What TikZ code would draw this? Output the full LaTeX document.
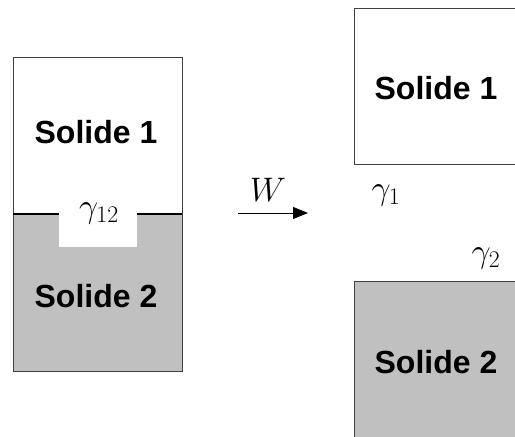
\RequirePackage{fix-cm}
\documentclass[tikz,border=0pt]{standalone}
\usepackage{fontspec}
\newfontfamily\solfont{Liberation Sans}
\usetikzlibrary{arrows.meta, positioning}
\definecolor{solgray}{RGB}{192,192,192}

\begin{document}
\begin{tikzpicture}[x=1pt, y=-1pt,
    solbox/.style={draw=black!75, line width=0.8pt},
    sollabel/.style={font=\solfont\bfseries\fontsize{32}{36}\selectfont},
    gammalabel/.style={font=\fontsize{34}{40}\selectfont, inner sep=0pt}]
    \useasboundingbox (0,0) rectangle (515,437);

    % joined solids
    \fill[solgray] (13,214) rectangle (182,371);
    \fill[white] (59,214) rectangle (137,247);
    \draw[solbox] (13,57) rectangle (182,371);
    \draw[line width=2.5pt] (13,214) -- (59,214) (137,214) -- (182,214);
    \node (s1) [sollabel] at (96,132) {Solide 1};
    \node (s2) [sollabel] at (96,296) {Solide 2};
    \node (g12) [gammalabel] at (99,213) {$\gamma_{12}$};

    % work
    \coordinate (wstart) at (238,213);
    \coordinate (wend) at (308,213);
    \draw[line width=1pt, -{Triangle[length=15pt, width=12pt]}] (wstart) -- (wend);
    \node (w) [gammalabel] at (268,190) {$W$};

    % separated solids
    \draw[solbox] (354,8) rectangle (530,164);
    \draw[solbox, fill=solgray] (354,281) rectangle (530,450);
    \node (s1b) [sollabel] at (436,88) {Solide 1};
    \node (s2b) [sollabel] at (436,362) {Solide 2};
    \node (g1) [gammalabel] at (386,195) {$\gamma_1$};
    \node (g2) [gammalabel] at (486,258) {$\gamma_2$};
\end{tikzpicture}
\end{document}
